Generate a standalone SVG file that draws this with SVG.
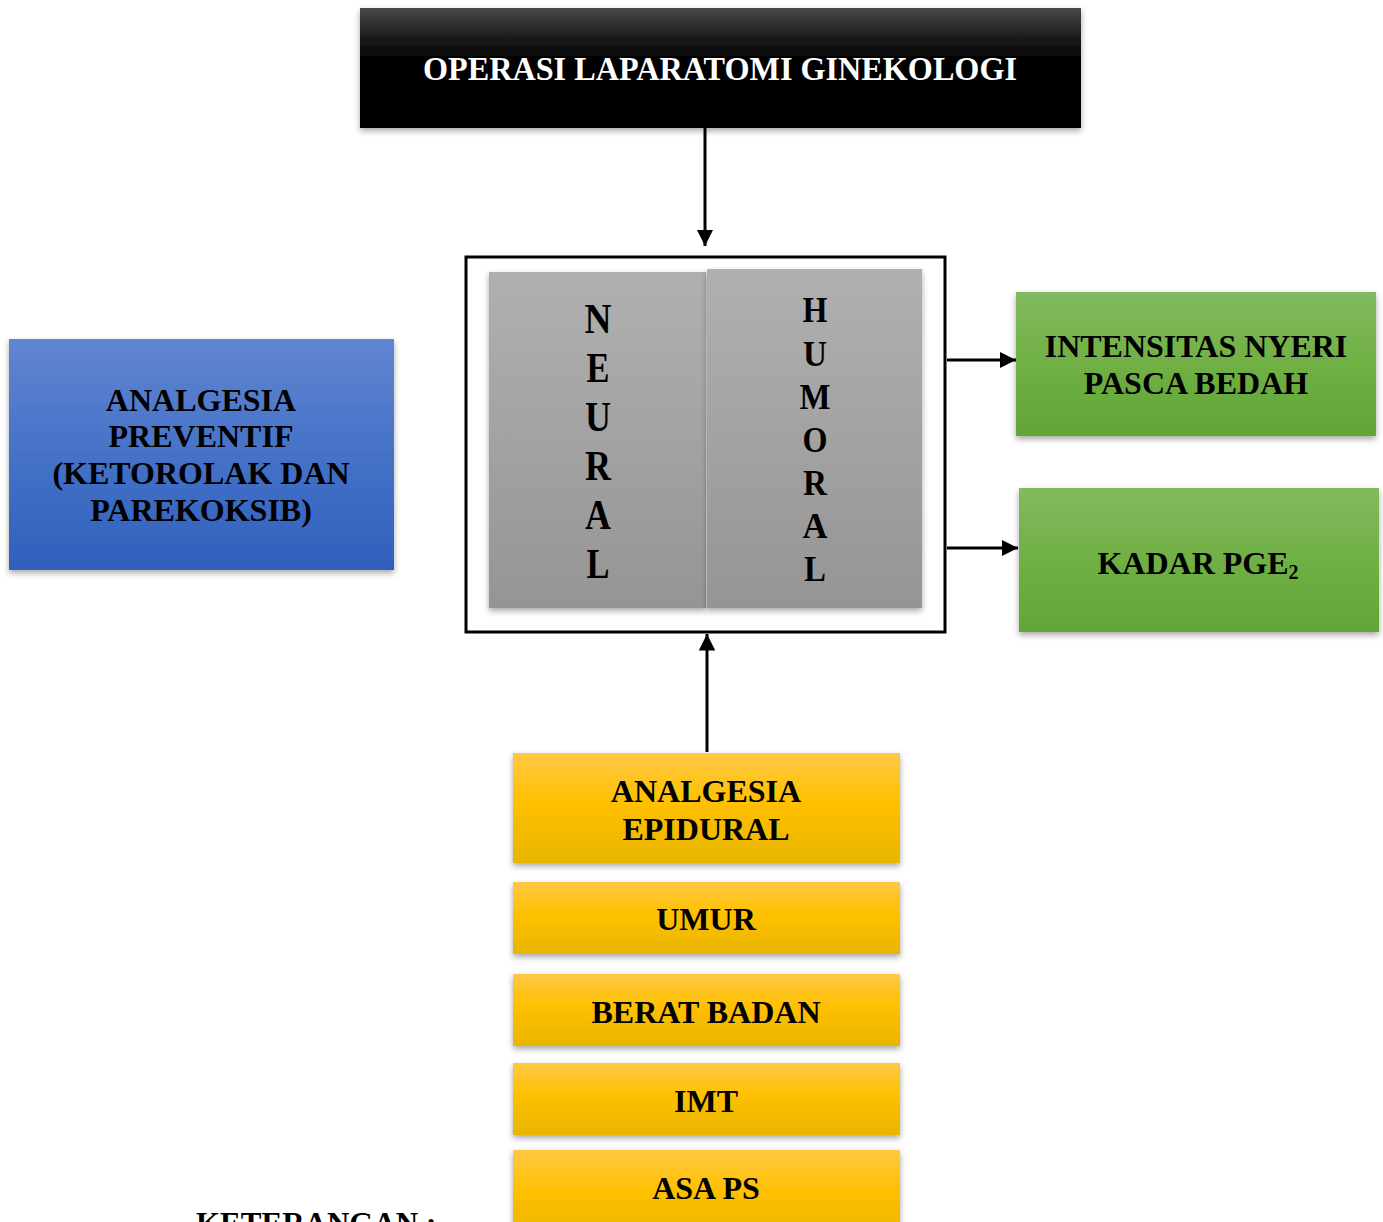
<svg xmlns="http://www.w3.org/2000/svg" width="1383" height="1222" viewBox="0 0 1383 1222">
<defs>
<linearGradient id="gBlack" x1="0" y1="0" x2="0" y2="1"><stop offset="0" stop-color="#4a4a4a"/><stop offset="0.25" stop-color="#1a1a1a"/><stop offset="0.45" stop-color="#000"/><stop offset="1" stop-color="#000"/></linearGradient>
<linearGradient id="gGrey" x1="0" y1="0" x2="0" y2="1"><stop offset="0" stop-color="#b0b0b0"/><stop offset="1" stop-color="#959595"/></linearGradient>
<linearGradient id="gGreen" x1="0" y1="0" x2="0" y2="1"><stop offset="0" stop-color="#82ba60"/><stop offset="0.5" stop-color="#70b044"/><stop offset="1" stop-color="#62a537"/></linearGradient>
<linearGradient id="gBlue" x1="0" y1="0" x2="0" y2="1"><stop offset="0" stop-color="#6185d0"/><stop offset="0.5" stop-color="#4572c8"/><stop offset="1" stop-color="#2f60bc"/></linearGradient>
<linearGradient id="gYellow" x1="0" y1="0" x2="0" y2="1"><stop offset="0" stop-color="#ffc845"/><stop offset="0.45" stop-color="#ffc000"/><stop offset="1" stop-color="#e8b500"/></linearGradient>
<filter id="sh" x="-10%" y="-10%" width="120%" height="130%"><feDropShadow dx="0" dy="3" stdDeviation="3" flood-color="#000" flood-opacity="0.35"/></filter>
<marker id="ah" viewBox="0 0 10 10" refX="10" refY="5" markerWidth="5.5" markerHeight="5.5" orient="auto" markerUnits="strokeWidth"><path d="M0,0 L10,5 L0,10 z" fill="#000"/></marker>
</defs>
<style>
text{font-family:"Liberation Serif","Times New Roman",serif;font-weight:bold;fill:#000;text-anchor:middle}
.w{fill:#fff}
.lbl{font-size:32px}
.conn{stroke:#000;stroke-width:3;fill:none;marker-end:url(#ah)}
</style>
<rect width="1383" height="1222" fill="#fff"/>

<g id="connectors">
<line class="conn" x1="705" y1="128" x2="705" y2="246"/>
<line class="conn" x1="947" y1="360" x2="1016" y2="360"/>
<line class="conn" x1="947" y1="548" x2="1018" y2="548"/>
<line class="conn" x1="707" y1="752" x2="707" y2="634"/>
</g>

<g id="operasi">
<rect x="360" y="8" width="721" height="120" fill="url(#gBlack)" filter="url(#sh)"/>
<text class="w" x="720" y="80" font-size="33" textLength="594" lengthAdjust="spacingAndGlyphs">OPERASI LAPARATOMI GINEKOLOGI</text>
</g>

<g id="frame">
<rect x="466" y="257" width="479" height="375" fill="#fff" stroke="#000" stroke-width="3"/>
</g>

<g id="neural">
<rect x="489" y="272" width="217" height="336" fill="url(#gGrey)" filter="url(#sh)"/>
<g font-size="43">
<text x="598" y="333" textLength="27" lengthAdjust="spacingAndGlyphs">N</text>
<text x="598" y="382" textLength="23" lengthAdjust="spacingAndGlyphs">E</text>
<text x="598" y="431" textLength="26" lengthAdjust="spacingAndGlyphs">U</text>
<text x="598" y="480" textLength="26" lengthAdjust="spacingAndGlyphs">R</text>
<text x="598" y="529" textLength="26" lengthAdjust="spacingAndGlyphs">A</text>
<text x="598" y="578" textLength="23" lengthAdjust="spacingAndGlyphs">L</text>
</g>
</g>

<g id="humoral">
<rect x="707" y="269" width="215" height="339" fill="url(#gGrey)" filter="url(#sh)"/>
<g font-size="35">
<text x="815" y="322" textLength="25" lengthAdjust="spacingAndGlyphs">H</text>
<text x="815" y="366" textLength="24" lengthAdjust="spacingAndGlyphs">U</text>
<text x="815" y="409" textLength="31" lengthAdjust="spacingAndGlyphs">M</text>
<text x="815" y="452" textLength="25" lengthAdjust="spacingAndGlyphs">O</text>
<text x="815" y="495" textLength="24" lengthAdjust="spacingAndGlyphs">R</text>
<text x="815" y="538" textLength="25" lengthAdjust="spacingAndGlyphs">A</text>
<text x="815" y="581" textLength="22" lengthAdjust="spacingAndGlyphs">L</text>
</g>
</g>

<g id="intensitas">
<rect x="1016" y="292" width="360" height="144" fill="url(#gGreen)" filter="url(#sh)"/>
<text class="lbl" x="1196" y="357">INTENSITAS NYERI</text>
<text class="lbl" x="1196" y="394">PASCA BEDAH</text>
</g>

<g id="kadar">
<rect x="1019" y="488" width="360" height="144" fill="url(#gGreen)" filter="url(#sh)"/>
<text class="lbl" x="1198" y="574">KADAR PGE<tspan font-size="20" dy="5">2</tspan></text>
</g>

<g id="preventif">
<rect x="9" y="339" width="385" height="231" fill="url(#gBlue)" filter="url(#sh)"/>
<text class="lbl" x="201" y="411">ANALGESIA</text>
<text class="lbl" x="201" y="447">PREVENTIF</text>
<text class="lbl" x="201" y="484">(KETOROLAK DAN</text>
<text class="lbl" x="201" y="521">PAREKOKSIB)</text>
</g>

<g id="epidural">
<rect x="513" y="753" width="387" height="110" fill="url(#gYellow)" filter="url(#sh)"/>
<text class="lbl" x="706" y="802">ANALGESIA</text>
<text class="lbl" x="706" y="840">EPIDURAL</text>
</g>

<g id="umur">
<rect x="513" y="882" width="387" height="72" fill="url(#gYellow)" filter="url(#sh)"/>
<text class="lbl" x="706" y="930">UMUR</text>
</g>

<g id="berat">
<rect x="513" y="974" width="387" height="72" fill="url(#gYellow)" filter="url(#sh)"/>
<text class="lbl" x="706" y="1023">BERAT BADAN</text>
</g>

<g id="imt">
<rect x="513" y="1063" width="387" height="72" fill="url(#gYellow)" filter="url(#sh)"/>
<text class="lbl" x="706" y="1112">IMT</text>
</g>

<g id="asa">
<rect x="513" y="1150" width="387" height="90" fill="url(#gYellow)" filter="url(#sh)"/>
<text class="lbl" x="706" y="1199">ASA PS</text>
</g>

<text x="196" y="1234" font-size="31" style="text-anchor:start">KETERANGAN :</text>
</svg>
